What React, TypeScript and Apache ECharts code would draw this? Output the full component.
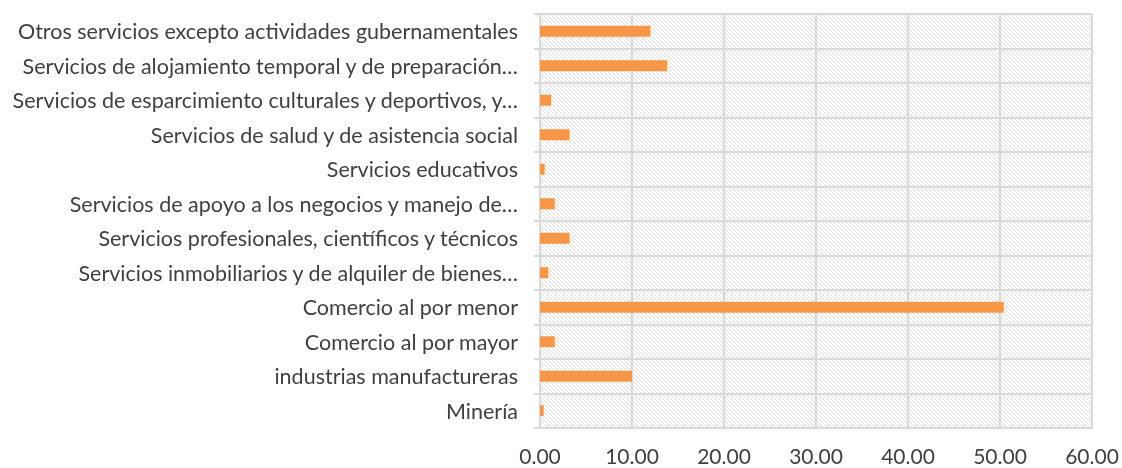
import React, { useEffect, useRef } from "react";
import * as echarts from "echarts";

const categories = [
  "Minería",
  "industrias manufactureras",
  "Comercio al por mayor",
  "Comercio al por menor",
  "Servicios inmobiliarios y de alquiler de bienes…",
  "Servicios profesionales, científicos y técnicos",
  "Servicios de apoyo a los negocios y manejo de…",
  "Servicios educativos",
  "Servicios de salud y de asistencia social",
  "Servicios de esparcimiento culturales y deportivos, y…",
  "Servicios de alojamiento temporal y de preparación…",
  "Otros servicios excepto actividades gubernamentales",
];

const values = [0.4, 10.0, 1.6, 50.4, 0.9, 3.2, 1.6, 0.5, 3.2, 1.2, 13.8, 12.0];

const hatchSvg =
  "data:image/svg+xml;charset=utf-8," +
  encodeURIComponent(
    '<svg xmlns="http://www.w3.org/2000/svg" width="4" height="4"><rect width="4" height="4" fill="#ffffff"/><path d="M-1,-1 L5,5 M-1,3 L1,5 M3,-1 L5,1" stroke="#dcdcdc" stroke-width="0.9"/></svg>'
  );

export default function App() {
  const ref = useRef<HTMLDivElement>(null);
  useEffect(() => {
    if (!ref.current) return;
    const chart = echarts.init(ref.current, undefined, { renderer: "svg" });
    const gridColor = "#d9d9d9";
    chart.setOption({
      animation: false,
      grid: {
        left: 540,
        right: 30,
        top: 14,
        bottom: 40,
        show: true,
        borderWidth: 0,
        outerBoundsMode: "none",
        containLabel: false,
        backgroundColor: { image: hatchSvg, repeat: "repeat" } as any,
      } as any,
      xAxis: {
        type: "value",
        min: 0,
        max: 60,
        interval: 10,
        axisLine: { show: true, lineStyle: { color: gridColor, width: 2 } },
        axisTick: { show: false },
        splitLine: { show: true, lineStyle: { color: gridColor, width: 2 } },
        axisLabel: {
          formatter: (v: number) => v.toFixed(2),
          fontFamily: "Lato",
          fontSize: 21,
          lineHeight: 19,
          color: "#404040",
          margin: 18,
        },
      },
      yAxis: {
        type: "category",
        data: categories,
        axisLine: { show: true, lineStyle: { color: gridColor, width: 2 } },
        axisTick: { show: true, length: 6, lineStyle: { color: gridColor, width: 2 } },
        splitLine: { show: true, lineStyle: { color: gridColor, width: 2 } },
        axisLabel: {
          fontFamily: "Lato",
          fontSize: 21.5,
          color: "#404040",
          margin: 22,
        },
      },
      series: [
        {
          type: "bar",
          data: values,
          barWidth: 11,
          itemStyle: { color: "#F79646" },
        },
      ],
    });
    return () => chart.dispose();
  }, []);
  return (
    <div
      ref={ref}
      style={{ position: "fixed", left: 0, top: 0, width: 1122, height: 468 }}
    />
  );
}
